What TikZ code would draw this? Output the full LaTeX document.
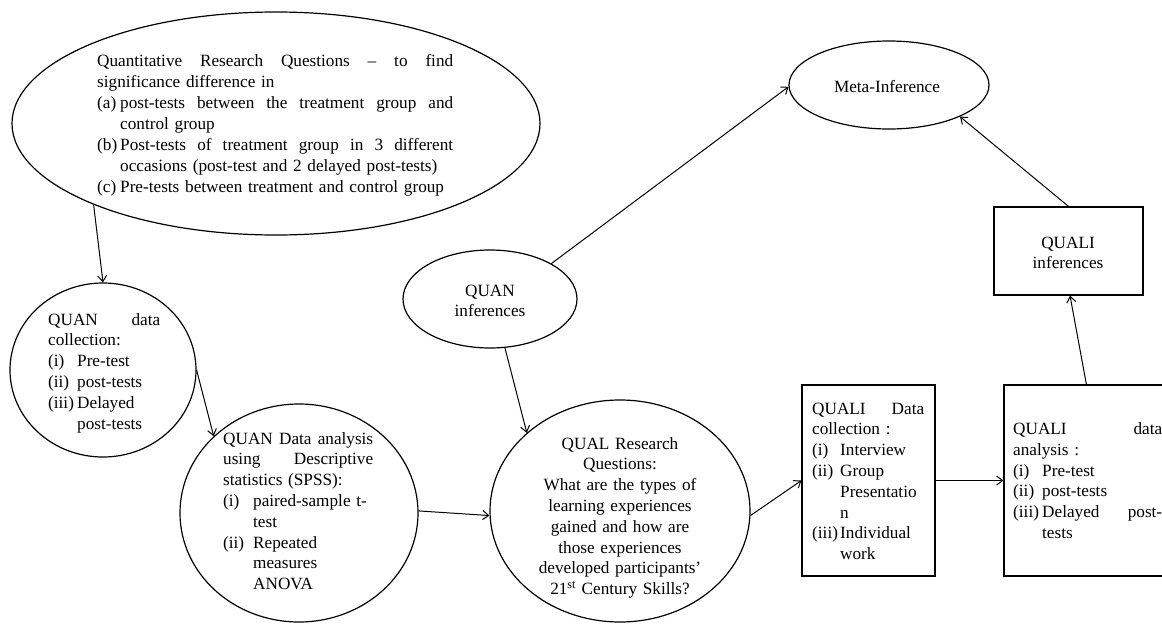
\documentclass[tikz,border=0pt]{standalone}
\usepackage{fontspec}
\setmainfont{Liberation Serif}
\usetikzlibrary{shapes.geometric,arrows.meta}

% hanging indent for list items and width of a text block
\newlength\lind
\newlength\tw
% a box of the given width whose word spaces stretch evenly
\newcommand\spread[2]{\hbox to #1{\spaceskip=0.25em plus 1fil\relax #2}}
% a line spread to the full block width
\newcommand\jl[1]{\leavevmode\spread{\tw}{#1}}
% list item: label in the indent, then the text
\newcommand\itm[2]{\makebox[\lind][l]{#1}#2}
% list item whose text is spread to the right margin
\newcommand\itmj[2]{\leavevmode\hbox to\lind{#1\hfil}\spread{\dimexpr\tw-\lind\relax}{#2}}
% continuation line of a list item
\newcommand\cont[1]{\hspace*{\lind}#1}

\tikzset{
  shp/.style={draw, line width=1.2pt, inner sep=0pt},
  oval/.style={shp, ellipse},
  box/.style={shp, rectangle},
  para/.style={inner sep=0pt, anchor=base west, align=left,
    font=\fontsize{17.2}{20.8}\selectfont},
  ctext/.style={inner sep=0pt, anchor=base, align=center,
    font=\fontsize{17.2}{20.8}\selectfont},
  arr/.style={line width=1pt, -{Straight Barb[length=6pt,width=9pt,line width=1pt]}}
}

\begin{document}
\begin{tikzpicture}[x=1pt, y=-1pt]
\useasboundingbox (0,0) rectangle (1162,627);

% ---- shapes ----
\node[oval, minimum width=528pt, minimum height=223pt] (rq) at (276,123.5) {};
\node[oval, minimum width=186pt, minimum height=174pt] (qcol) at (103,370) {};
\node[oval, minimum width=238pt, minimum height=218pt] (qana) at (299,513) {};
\node[oval, minimum width=260pt, minimum height=222pt] (qual) at (620,511) {};
\node[oval, minimum width=174pt, minimum height=98pt] (qinf) at (490,299) {};
\node[oval, minimum width=200pt, minimum height=88pt] (meta) at (889,85) {};
\node[box, minimum width=149pt, minimum height=88pt] (linf) at (1068.5,251) {};
\node[box, minimum width=133pt, minimum height=191pt] (lcol) at (868.5,480.5) {};
\node[box, minimum width=168pt, minimum height=191pt] (lana) at (1088,480.5) {};

% ---- texts ----
\node[para, text width=356pt, font=\fontsize{17.2}{21}\selectfont] (rqt) at (97,66.5) {%
\setlength\lind{23pt}\setlength\tw{356pt}%
\jl{Quantitative Research Questions -- to find}\\
significance difference in\\
\itmj{(a)}{post-tests between the treatment group and}\\
\cont{control group}\\
\itmj{(b)}{Post-tests of treatment group in 3 different}\\
\cont{occasions (post-test and 2 delayed post-tests)}\\
\itm{(c)}{Pre-tests between treatment and control group}};

\node[para, text width=112pt] (qcolt) at (48,325) {%
\setlength\lind{29pt}\setlength\tw{112pt}%
\jl{QUAN data}\\
collection:\\
\itm{(i)}{Pre-test}\\
\itm{(ii)}{post-tests}\\
\itm{(iii)}{Delayed}\\
\cont{post-tests}};

\node[para, text width=150pt] (qanat) at (223,444) {%
\setlength\lind{30pt}\setlength\tw{150pt}%
\jl{QUAN Data analysis}\\
\jl{using Descriptive}\\
statistics (SPSS):\\
\itm{(i)}{paired-sample t-}\\
\cont{test}\\
\itm{(ii)}{Repeated}\\
\cont{measures}\\
\cont{ANOVA}};

\node[ctext, text width=250pt] (qualt) at (620,449) {%
QUAL Research\\
Questions:\\
What are the types of\\
learning experiences\\
gained and how are\\
those experiences\\
developed participants’\\
21\textsuperscript{st} Century Skills?};

\node[ctext, text width=150pt, font=\fontsize{17.2}{20}\selectfont] (qinft) at (490,296.7) {QUAN\\inferences};
\node[ctext, text width=180pt] (metat) at (887,92.7) {Meta-Inference};
\node[ctext, text width=140pt, font=\fontsize{17.2}{20}\selectfont] (linft) at (1068,248) {QUALI\\inferences};

\node[para, text width=112pt] (lcolt) at (812,414) {%
\setlength\lind{28pt}\setlength\tw{112pt}%
\jl{QUALI Data}\\
collection :\\
\itm{(i)}{Interview}\\
\itm{(ii)}{Group}\\
\cont{Presentatio}\\
\cont{n}\\
\itm{(iii)}{Individual}\\
\cont{work}};

\node[para, text width=149pt] (lanat) at (1013,434.5) {%
\setlength\lind{29pt}\setlength\tw{149pt}%
\jl{QUALI data}\\
analysis :\\
\itm{(i)}{Pre-test}\\
\itm{(ii)}{post-tests}\\
\itmj{(iii)}{Delayed post-}\\
\cont{tests}};

% ---- connectors ----
\draw[arr] (rq.204) -- (qcol.north);
\draw[arr] (qcol.east) -- (qana.138.5);
\draw[arr] (qana.1) -- (qual.182);
\draw[arr] (qinf.287) -- (qual.140);
\draw[arr] (qinf.30) -- (meta.181);
\draw[arr] (qual.358) -- (lcol.west);
\draw[arr] (lcol.east) -- (lana.west);
\draw[arr] ([xshift=83pt]lana.north west) -- ([xshift=1.5pt]linf.south);
\draw[arr] (linf.north) -- (meta.336);
\end{tikzpicture}
\end{document}
